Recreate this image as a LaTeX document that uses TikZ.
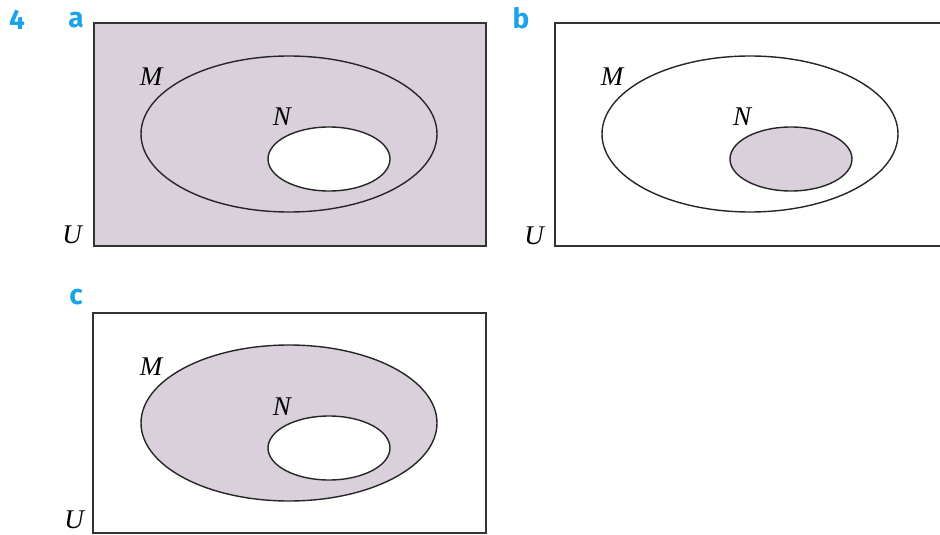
\documentclass[tikz,border=0pt]{standalone}
\usepackage{fontspec}
\newfontfamily\labelfont{Fira Sans}
\newfontfamily\setfont{Liberation Serif}
\usetikzlibrary{shapes.geometric,positioning}
\definecolor{shade}{RGB}{217,208,220}
\definecolor{partblue}{RGB}{26,163,232}
\begin{document}
\begin{tikzpicture}[x=1pt, y=-1pt, node distance=2cm, thick]
  \tikzstyle{universe} = [rectangle, draw=black!80, line width=1.6pt, minimum width=392pt, minimum height=223pt, inner sep=0pt]
  \tikzstyle{bigset} = [ellipse, draw=black!85, line width=1.4pt, minimum width=296pt, minimum height=156pt, inner sep=0pt]
  \tikzstyle{smallset} = [ellipse, draw=black!85, line width=1.4pt, minimum width=122pt, minimum height=64pt, inner sep=0pt]
  \tikzstyle{setname} = [font=\setfont\itshape\fontsize{27}{30}\selectfont, inner sep=0pt]
  \tikzstyle{part} = [font=\labelfont\bfseries\fontsize{28}{30}\selectfont, text=partblue, inner sep=0pt]

  \useasboundingbox (0,0) rectangle (940,535);

  % part a
  \node [universe, fill=shade] (ua) at (290,134.5) {};
  \node [bigset] (ma) at (289,134) {};
  \node [smallset, fill=white] (na) at (329,159) {};
  \node [setname] (la) at (151,77) {M};
  \node [setname] (lna) at (282,117) {N};
  \node [setname] (lua) at (72,235) {U};

  % part b
  \node [universe, minimum width=393pt] (ub) at (751.5,134.5) {};
  \node [bigset] (mb) at (750,134) {};
  \node [smallset, fill=shade] (nb) at (791,159) {};
  \node [setname] (lb) at (612,77) {M};
  \node [setname] (lnb) at (742,117) {N};
  \node [setname] (lub) at (534,236) {U};

  % part c
  \node [universe, minimum width=393pt, minimum height=220pt] (uc) at (289.5,423) {};
  \node [bigset, fill=shade] (mc) at (289,423) {};
  \node [smallset, fill=white] (nc) at (329,448) {};
  \node [setname] (lc) at (151,367) {M};
  \node [setname] (lnc) at (282,407) {N};
  \node [setname] (luc) at (74,520) {U};

  \node [part] (q) at (17,20) {4};
  \node [part] (pa) at (76,20) {a};
  \node [part] (pb) at (521,18) {b};
  \node [part] (pc) at (76,297) {c};
\end{tikzpicture}
\end{document}
